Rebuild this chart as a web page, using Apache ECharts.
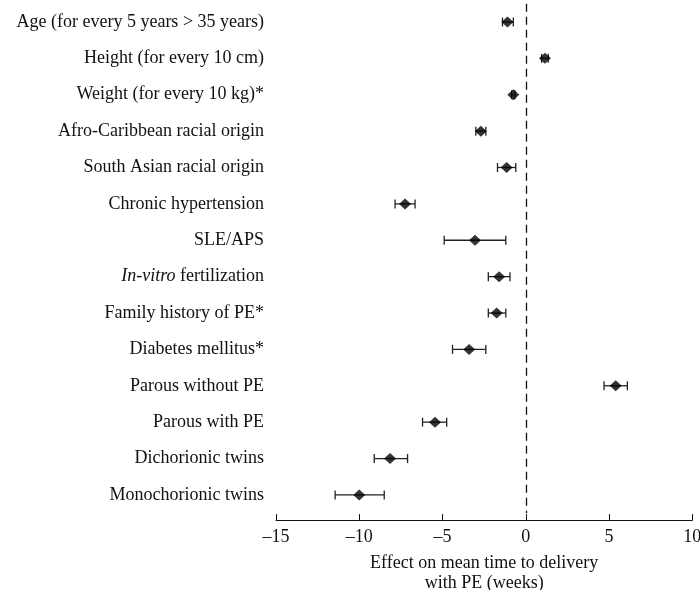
<!DOCTYPE html>
<html>
<head>
<meta charset="utf-8">
<script src="https://cdn.jsdelivr.net/npm/echarts@6/dist/echarts.min.js"></script>
<style>
  html, body { margin: 0; padding: 0; background: #fff; }
  #chart { width: 700px; height: 590px; }
</style>
</head>
<body>
<div id="chart"></div>
<script>
// Predictors of time to delivery with pre-eclampsia (top to bottom)
const categories = [
  'Age (for every 5 years > 35 years)',
  'Height (for every 10 cm)',
  'Weight (for every 10 kg)*',
  'Afro-Caribbean racial origin',
  'South Asian racial origin',
  'Chronic hypertension',
  'SLE/APS',
  'In-vitro fertilization',
  'Family history of PE*',
  'Diabetes mellitus*',
  'Parous without PE',
  'Parous with PE',
  'Dichorionic twins',
  'Monochorionic twins'
];
// Effect estimate (weeks) with 95% CI bounds
const estimate = [-1.1, 1.15, -0.75, -2.7, -1.15, -7.25, -3.05, -1.6, -1.75, -3.4, 5.4, -5.45, -8.15, -10.0];
const lower    = [-1.4, 0.95, -0.85, -3.0, -1.7, -7.85, -4.9, -2.25, -2.25, -4.4, 4.7, -6.2, -9.1, -11.45];
const upper    = [-0.75, 1.35, -0.65, -2.4, -0.6, -6.65, -1.2, -0.95, -1.2, -2.4, 6.1, -4.75, -7.1, -8.5];
const xTicks = [-15, -10, -5, 0, 5, 10];

const FONT = '"Liberation Serif", "DejaVu Serif", serif';
const FS = 18;
const INK = '#111';

const ciData = categories.map((c, i) => [i, lower[i], upper[i]]);
const pointData = categories.map((c, i) => [estimate[i], i]);

const chart = echarts.init(document.getElementById('chart'));
chart.setOption({
  animation: false,
  backgroundColor: '#fff',
  grid: { left: 276, right: 7.7, top: 3.8, height: 509.3, outerBoundsMode: 'none', containLabel: false },
  xAxis: {
    type: 'value',
    min: xTicks[0],
    max: xTicks[xTicks.length - 1],
    interval: 5,
    offset: 7,
    splitLine: { show: false },
    axisLine: { show: true, lineStyle: { color: INK, width: 1 } },
    axisTick: { show: true, inside: true, length: 6, lineStyle: { color: INK, width: 1 } },
    axisLabel: {
      margin: 8,
      color: INK,
      fontFamily: FONT,
      fontSize: FS,
      formatter: v => String(v).replace('-', '\u2013')
    },
    name: 'Effect on mean time to delivery\nwith PE (weeks)',
    nameLocation: 'middle',
    nameGap: 33,
    nameTextStyle: { color: INK, fontFamily: FONT, fontSize: FS, lineHeight: 20 }
  },
  yAxis: {
    type: 'category',
    data: categories,
    inverse: true,
    axisLine: { show: false },
    axisTick: { show: false },
    splitLine: { show: false },
    axisLabel: {
      margin: 12,
      color: INK,
      fontFamily: FONT,
      fontSize: FS,
      formatter: v => v.startsWith('In-vitro') ? '{i|In-vitro}' + v.slice(8) : v,
      rich: {
        i: { fontStyle: 'italic', fontFamily: FONT, fontSize: FS, color: INK }
      }
    }
  },
  series: [
    {
      type: 'custom',
      name: 'CI',
      data: ciData,
      renderItem: function (params, api) {
        const row = api.value(0);
        const a = api.coord([api.value(1), row]);
        const b = api.coord([api.value(2), row]);
        const h = 4.5;
        const style = { stroke: '#222', lineWidth: 1.3, fill: null };
        return {
          type: 'group',
          children: [
            { type: 'line', shape: { x1: a[0], y1: a[1], x2: b[0], y2: b[1] }, style },
            { type: 'line', shape: { x1: a[0], y1: a[1] - h, x2: a[0], y2: a[1] + h }, style },
            { type: 'line', shape: { x1: b[0], y1: b[1] - h, x2: b[0], y2: b[1] + h }, style }
          ]
        };
      },
      z: 2
    },
    {
      type: 'scatter',
      name: 'Estimate',
      data: pointData,
      symbol: 'diamond',
      symbolSize: [12, 11],
      itemStyle: { color: '#000' },
      z: 3,
      markLine: {
        silent: true,
        symbol: 'none',
        label: { show: false },
        lineStyle: { color: INK, type: [8, 5], width: 1.3 },
        data: [{ xAxis: 0 }]
      }
    }
  ]
});
</script>
</body>
</html>
